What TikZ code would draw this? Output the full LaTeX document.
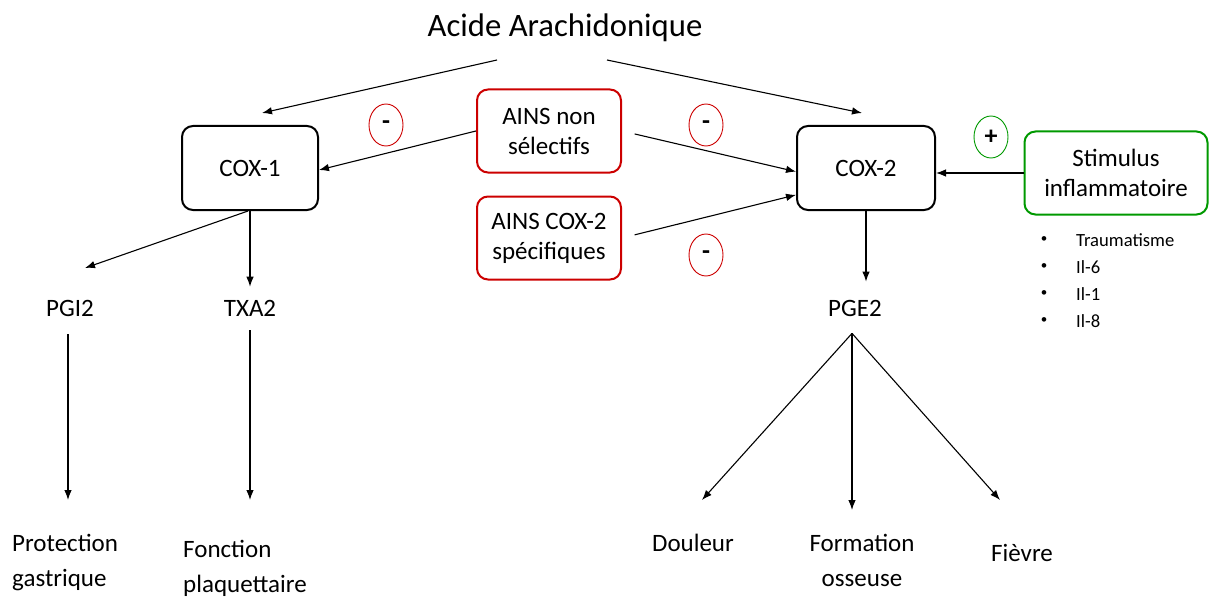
\documentclass[tikz,border=0pt]{standalone}
\usepackage{fontspec}
\setmainfont{Carlito}
\usetikzlibrary{arrows.meta,shapes.geometric}

\begin{document}
\begin{tikzpicture}[x=1pt, y=-1pt,
    box/.style={draw, line width=2pt, rounded corners=11pt, minimum width=136pt,
                minimum height=84pt, font=\fontsize{25}{30}\selectfont, align=center},
    redbox/.style={box, draw=red!80!black, minimum width=144pt, minimum height=83pt},
    greenbox/.style={box, draw=green!60!black, minimum width=183pt, minimum height=83pt},
    lbl/.style={inner sep=0pt, font=\fontsize{25}{35}\selectfont, align=center},
    sign/.style={ellipse, draw, line width=0.9pt, minimum width=34pt, minimum height=42pt,
                 inner sep=0pt, font=\fontsize{26}{26}\selectfont\bfseries},
    arr/.style={-{Latex[length=10pt,width=7.5pt]}, line width=1.1pt}
]
\useasboundingbox (0,0) rectangle (1210,599);

% top
\node[inner sep=0pt, font=\fontsize{32.7}{36}\selectfont] (acide) at (565,28) {Acide Arachidonique};

% enzymes and inhibitors
\node[box] (cox1) at (250,168) {COX-1};
\node[box, minimum width=138pt] (cox2) at (866,168) {COX-2};
\node[redbox] (ainsns) at (549,131) {AINS non\\sélectifs};
\node[redbox] (ainsc2) at (549,238) {AINS COX-2\\spécifiques};
\node[greenbox] (stim) at (1116,173) {Stimulus\\inflammatoire};

\node[sign, draw=red!80!black] (m1) at (386,125) {-};
\node[sign, draw=red!80!black] (m2) at (706,125) {-};
\node[sign, draw=red!80!black] (m3) at (706,255) {-};
\node[sign, draw=green!60!black] (p1) at (991,137) {+};

% stimulus list
\foreach \txt [count=\i] in {Traumatisme, Il-6, Il-1, Il-8} {
  \node[font=\fontsize{13}{14}\selectfont, inner sep=0pt] (b\i) at (1044,213+27*\i) {\textbullet};
  \node[font=\fontsize{18.6}{20}\selectfont, inner sep=0pt, anchor=west] (s\i) at (1076,213+27*\i) {\txt};
}

% products
\node[lbl] (pgi2) at (70,308) {PGI2};
\node[lbl] (txa2) at (250,308) {TXA2};
\node[lbl] (pge2) at (855,308) {PGE2};

\node[lbl, align=left, anchor=north west] (prot) at (12,534) {Protection\\gastrique};
\node[lbl, align=left, anchor=north west] (fonc) at (183,540) {Fonction\\plaquettaire};
\node[lbl] (doul) at (693,543) {Douleur};
\node[lbl] (form) at (862,560) {Formation\\osseuse};
\node[lbl] (fiev) at (1022,553) {Fièvre};

% free ends
\coordinate (aL) at (497,60);
\coordinate (aR) at (607,60);
\coordinate (c1top) at (262,113);
\coordinate (c2top) at (862,113);
\coordinate (pgiin) at (85,268);
\coordinate (dlin) at (702,500);
\coordinate (fmin) at (852,510);
\coordinate (fvin) at (1000,500);

\draw[arr] (aL) -- (c1top);
\draw[arr] (aR) -- (c2top);
\draw[arr] (ainsns.west) -- ([yshift=-2pt]cox1.east);
\draw[arr, shorten <=13pt] (ainsns.east) -- (cox2.183);
\draw[arr, shorten <=13pt] (ainsc2.east) -- (cox2.201);
\draw[arr] (stim.west) -- (cox2.east |- stim.west);

\draw[arr] ([xshift=-2pt]cox1.south) -- (pgiin);
\draw[arr, shorten >=13pt] (cox1.south) -- (txa2.north);
\draw[arr, shorten >=18pt] (cox2.south) -- (cox2.south |- pge2.north);

\draw[arr, shorten <=18pt, shorten >=34pt] (pgi2.south -| 68,0) -- (prot.north -| 68,0);
\draw[arr, shorten <=14pt, shorten >=40pt] (txa2.south) -- (txa2.south |- fonc.north);
\draw[arr] ([shift={(-3pt,-17pt)}]pge2.south) -- (dlin);
\draw[arr] ([shift={(-3pt,-17pt)}]pge2.south) -- (fmin);
\draw[arr] ([shift={(-3pt,-17pt)}]pge2.south) -- (fvin);

\end{tikzpicture}
\end{document}
